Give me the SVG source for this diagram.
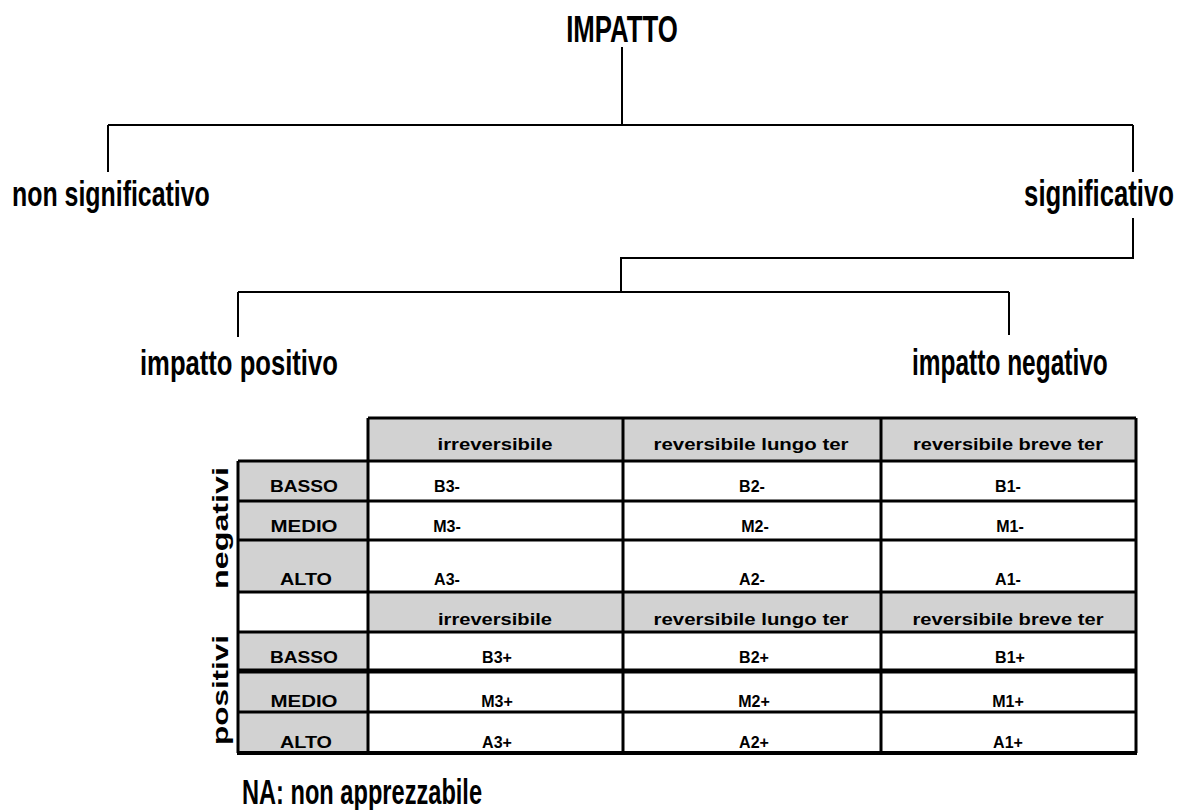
<svg xmlns="http://www.w3.org/2000/svg" width="1182" height="810" viewBox="0 0 1182 810">
<style>
  .lbl { font-family: "Liberation Sans", Arial, sans-serif; font-weight: bold; fill: #000; }
  .big { font-size: 36px; }
  .hd { font-size: 17px; text-anchor: middle; }
  .cell { font-size: 16px; text-anchor: middle; }
  .side { font-size: 22px; text-anchor: middle; }
  .conn { stroke: #000; stroke-width: 2; fill: none; }
  .grid { stroke: #000; stroke-width: 3; fill: none; }
  .gray { fill: #d2d2d2; }
</style>
<rect width="1182" height="810" fill="#fff"/>

<g id="connectors">
  <path class="conn" d="M622 47 V125 M108 125 H1133 M108 125 V172 M1133 125 V172"/>
  <path class="conn" d="M1133 218 V258 H621 V292 M238 292 H1009 M238 292 V337 M1009 292 V335"/>
</g>

<g id="impatto">
  <text class="lbl" font-size="37" text-anchor="middle" transform="translate(622 42) scale(0.697 1)">IMPATTO</text>
</g>
<g id="non-significativo">
  <text class="lbl big" transform="translate(12 206) scale(0.692 1)">non significativo</text>
</g>
<g id="significativo">
  <text class="lbl big" text-anchor="end" transform="translate(1174 206) scale(0.714 1)">significativo</text>
</g>
<g id="impatto-positivo">
  <text class="lbl big" transform="translate(140 375) scale(0.712 1)">impatto positivo</text>
</g>
<g id="impatto-negativo">
  <text class="lbl big" transform="translate(912 375) scale(0.68 1)">impatto negativo</text>
</g>

<g id="table">
  <rect class="gray" x="368" y="418" width="768" height="43"/>
  <rect class="gray" x="238" y="461" width="130" height="131"/>
  <rect class="gray" x="368" y="592" width="768" height="40"/>
  <rect class="gray" x="238" y="632" width="130" height="121"/>

  <path class="grid" d="M368 418 H1136 M238 461 H1136 M238 501 H1136 M238 540 H1136 M238 592 H1136 M238 632 H1136 M238 712 H1136"/>
  <path stroke="#000" stroke-width="5" d="M238 671 H1136"/>
  <path stroke="#000" stroke-width="4" d="M237 753 H1137"/>
  <path class="grid" d="M238 461 V753 M368 418 V753 M623 418 V753 M881 418 V753 M1136 418 V753"/>

  <text class="lbl hd" x="495" y="450" textLength="115" lengthAdjust="spacingAndGlyphs">irreversibile</text>
  <text class="lbl hd" x="751" y="450" textLength="195" lengthAdjust="spacingAndGlyphs">reversibile lungo ter</text>
  <text class="lbl hd" x="1008" y="450" textLength="190" lengthAdjust="spacingAndGlyphs">reversibile breve ter</text>

  <text class="lbl cell" x="304" y="492" textLength="68" lengthAdjust="spacingAndGlyphs">BASSO</text>
  <text class="lbl cell" x="304" y="532" textLength="67" lengthAdjust="spacingAndGlyphs">MEDIO</text>
  <text class="lbl cell" x="306" y="585" textLength="52" lengthAdjust="spacingAndGlyphs">ALTO</text>

  <text class="lbl cell" x="447" y="492">B3-</text>
  <text class="lbl cell" x="752" y="492">B2-</text>
  <text class="lbl cell" x="1008" y="492">B1-</text>
  <text class="lbl cell" x="447" y="532">M3-</text>
  <text class="lbl cell" x="755" y="532">M2-</text>
  <text class="lbl cell" x="1010" y="532">M1-</text>
  <text class="lbl cell" x="447" y="585">A3-</text>
  <text class="lbl cell" x="752" y="585">A2-</text>
  <text class="lbl cell" x="1008" y="585">A1-</text>

  <text class="lbl hd" x="495" y="625" textLength="114" lengthAdjust="spacingAndGlyphs">irreversibile</text>
  <text class="lbl hd" x="751" y="625" textLength="195" lengthAdjust="spacingAndGlyphs">reversibile lungo ter</text>
  <text class="lbl hd" x="1008" y="625" textLength="191" lengthAdjust="spacingAndGlyphs">reversibile breve ter</text>

  <text class="lbl cell" x="304" y="663" textLength="68" lengthAdjust="spacingAndGlyphs">BASSO</text>
  <text class="lbl cell" x="304" y="707" textLength="67" lengthAdjust="spacingAndGlyphs">MEDIO</text>
  <text class="lbl cell" x="306" y="748" textLength="52" lengthAdjust="spacingAndGlyphs">ALTO</text>

  <text class="lbl cell" x="497" y="663">B3+</text>
  <text class="lbl cell" x="754" y="663">B2+</text>
  <text class="lbl cell" x="1010" y="663">B1+</text>
  <text class="lbl cell" x="497" y="707">M3+</text>
  <text class="lbl cell" x="754" y="707">M2+</text>
  <text class="lbl cell" x="1008" y="707">M1+</text>
  <text class="lbl cell" x="497" y="748">A3+</text>
  <text class="lbl cell" x="754" y="748">A2+</text>
  <text class="lbl cell" x="1008" y="748">A1+</text>

  <text class="lbl side" transform="translate(228 528) rotate(-90)" textLength="122" lengthAdjust="spacingAndGlyphs">negativi</text>
  <text class="lbl side" transform="translate(228 690) rotate(-90)" textLength="110" lengthAdjust="spacingAndGlyphs">positivi</text>
</g>

<g id="nota">
  <text class="lbl big" transform="translate(242 804) scale(0.656 1)">NA: non apprezzabile</text>
</g>
</svg>
